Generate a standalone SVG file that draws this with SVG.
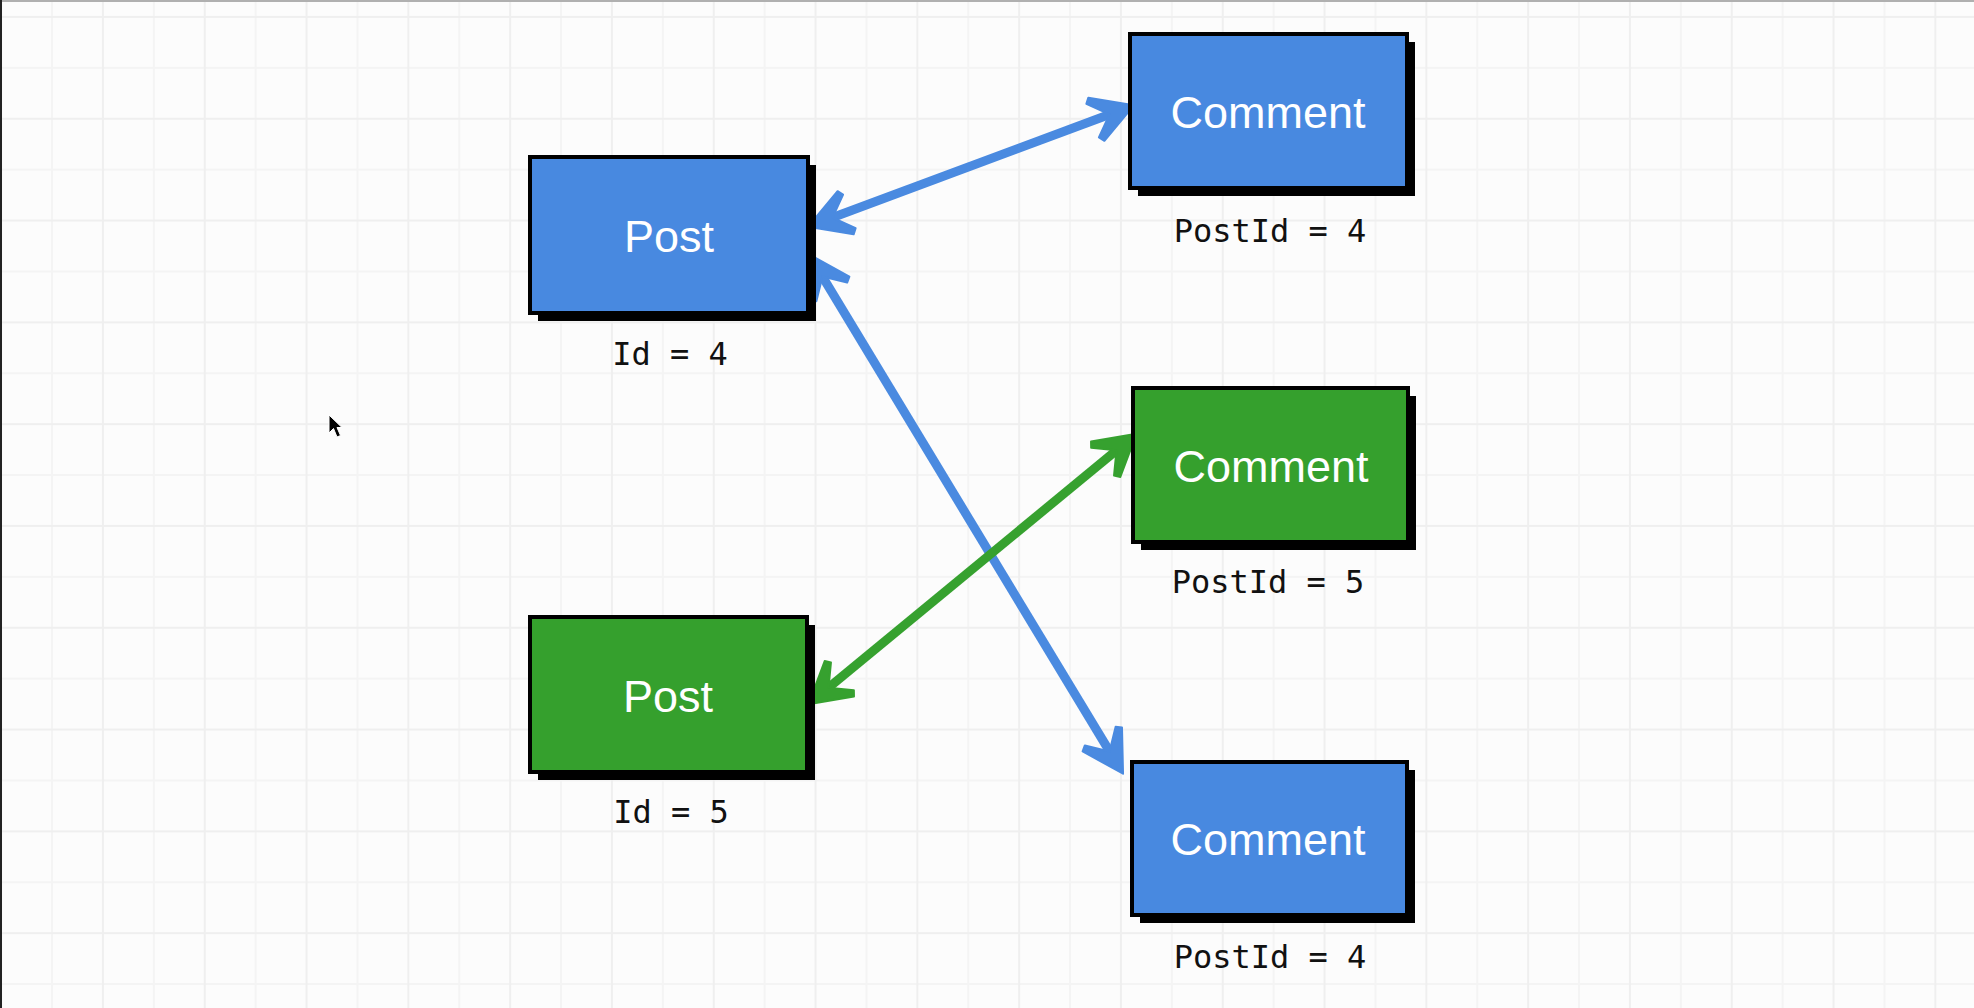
<svg xmlns="http://www.w3.org/2000/svg" width="1974" height="1008" viewBox="0 0 1974 1008">
  <style>
    .shadow { fill: #000; }
    .blue { fill: #4889e0; stroke: #000; stroke-width: 4; }
    .green { fill: #35a02d; stroke: #000; stroke-width: 4; }
    .title { font-family: "Liberation Sans", Arial, sans-serif; font-size: 45px; fill: #fff; text-anchor: middle; }
    .label { font-family: "DejaVu Sans Mono", "Liberation Mono", monospace; font-size: 32px; fill: #111; text-anchor: middle; }
    .line-blue { stroke: #4a8ae0; stroke-width: 9; fill: none; }
    .line-green { stroke: #36a12f; stroke-width: 9; fill: none; }
  </style>
  <defs>
    <pattern id="grid" patternUnits="userSpaceOnUse" x="-23.8" y="-8" width="101.8" height="101.8">
      <path d="M75.9,0 V101.8 M0,75.9 H101.8" stroke="#f4f4f4" stroke-width="2" fill="none"/>
      <path d="M25,0 V101.8 M0,25 H101.8" stroke="#efefef" stroke-width="2" fill="none"/>
    </pattern>
  </defs>

  <rect x="0" y="0" width="1974" height="1008" fill="#fcfcfc"/>
  <rect x="0" y="0" width="1974" height="1008" fill="url(#grid)"/>
  <line x1="0" y1="1" x2="1974" y2="1" stroke="#b0b0b0" stroke-width="2"/>
  <line x1="1" y1="0" x2="1" y2="1008" stroke="#222" stroke-width="2"/>

  <g id="connectors">
    <line class="line-blue" x1="830.6" y1="218.3" x2="1111.4" y2="113.7"/>
    <line class="line-blue" x1="821.4" y1="274.8" x2="1110.6" y2="753.2"/>
    <line class="line-green" x1="826.9" y1="689.0" x2="1118.1" y2="449.0"/>
    <g fill="#4a8ae0" stroke="#4a8ae0" stroke-width="2" stroke-linejoin="round">
      <polygon points="2,0 -38,-23 -42,-18 -24,0 -42,18 -38,23" transform="translate(1132,106) rotate(-20.4)"/>
      <polygon points="2,0 -38,-23 -42,-18 -24,0 -42,18 -38,23" transform="translate(810,226) rotate(159.6)"/>
      <polygon points="2,0 -38,-23 -42,-18 -24,0 -42,18 -38,23" transform="translate(1122,772) rotate(58.8)"/>
      <polygon points="2,0 -38,-23 -42,-18 -24,0 -42,18 -38,23" transform="translate(810,256) rotate(238.8)"/>
    </g>
    <g fill="#36a12f" stroke="#36a12f" stroke-width="2" stroke-linejoin="round">
      <polygon points="2,0 -38,-23 -42,-18 -24,0 -42,18 -38,23" transform="translate(1135,435) rotate(-39.5)"/>
      <polygon points="2,0 -38,-23 -42,-18 -24,0 -42,18 -38,23" transform="translate(810,703) rotate(140.5)"/>
    </g>
  </g>

  <g id="post-4">
    <rect class="shadow" x="538" y="165" width="278" height="156"/>
    <rect class="blue" x="530" y="157" width="278" height="156"/>
    <text class="title" x="669" y="252">Post</text>
    <text class="label" x="670" y="365">Id = 4</text>
  </g>

  <g id="post-5">
    <rect class="shadow" x="538" y="625" width="277" height="155"/>
    <rect class="green" x="530" y="617" width="277" height="155"/>
    <text class="title" x="668" y="712">Post</text>
    <text class="label" x="671" y="823">Id = 5</text>
  </g>

  <g id="comment-1">
    <rect class="shadow" x="1138" y="42" width="277" height="154"/>
    <rect class="blue" x="1130" y="34" width="277" height="154"/>
    <text class="title" x="1268" y="128">Comment</text>
    <text class="label" x="1270" y="242">PostId = 4</text>
  </g>

  <g id="comment-2">
    <rect class="shadow" x="1141" y="396" width="275" height="154"/>
    <rect class="green" x="1133" y="388" width="275" height="154"/>
    <text class="title" x="1271" y="482">Comment</text>
    <text class="label" x="1268" y="593">PostId = 5</text>
  </g>

  <g id="comment-3">
    <rect class="shadow" x="1140" y="770" width="275" height="153"/>
    <rect class="blue" x="1132" y="762" width="275" height="153"/>
    <text class="title" x="1268" y="855">Comment</text>
    <text class="label" x="1270" y="968">PostId = 4</text>
  </g>

  <path d="M329,415 L329,433 L333.5,428.5 L337,437 L340.5,435.5 L337,427.5 L342,427.5 Z" fill="#000" stroke="#fff" stroke-width="1"/>
</svg>
